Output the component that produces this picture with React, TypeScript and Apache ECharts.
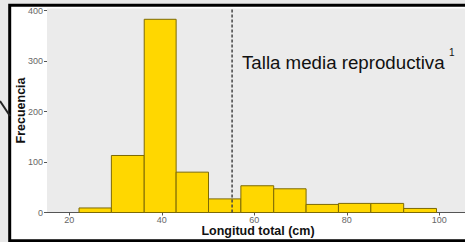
import React, { useEffect, useRef } from "react";
import * as echarts from "echarts";

const binEdges = [22.1, 29.1, 36.2, 43.1, 50.1, 57.1, 64.2, 71.2, 78.2, 85.2, 92.3, 99.4];
const counts = [9, 113, 383, 80, 27, 53, 47, 16, 18, 18, 8];
const xTicks = [20, 40, 60, 80, 100];
const yTicks = [0, 100, 200, 300, 400];
const meanLength = 55.2;
const xTitle = "Longitud total (cm)";
const yTitle = "Frecuencia";
const annotation = "Talla media reproductiva";
const annotationNote = "1";

const FONT = "'Liberation Sans', Arial, sans-serif";

export default function App() {
  const ref = useRef<HTMLDivElement>(null);
  useEffect(() => {
    if (!ref.current) return;
    const chart = echarts.init(ref.current, undefined, { renderer: "svg" });
    const bins = counts.map((c, i) => [binEdges[i], binEdges[i + 1], c]);
    const yMax = 404.4;
    chart.setOption({
      animation: false,
      backgroundColor: "#e8e8e8",
      grid: {
        left: 47,
        right: 0,
        top: 8.5,
        bottom: 29.5,
        show: true,
        backgroundColor: "#ebebeb",
        borderWidth: 0,
        containLabel: false,
        outerBoundsMode: "none",
      },
      xAxis: {
        type: "value",
        min: 15.18,
        max: 105.56,
        name: xTitle,
        nameLocation: "middle",
        nameGap: 11.5,
        nameMoveOverlap: false,
        nameTextStyle: { fontFamily: FONT, fontWeight: "bold", fontSize: 12.5, color: "#111", padding: [0, 0, 0, 4] },
        axisLine: { show: true, lineStyle: { color: "#555", width: 1 } },
        axisTick: { show: true, length: 3, customValues: xTicks, lineStyle: { color: "#555" } },
        axisLabel: { customValues: xTicks, fontFamily: FONT, fontSize: 9, color: "#666", margin: 3 },
        splitLine: { show: false },
      },
      yAxis: {
        type: "value",
        min: 0,
        max: yMax,
        name: yTitle,
        nameLocation: "middle",
        nameGap: 20,
        nameMoveOverlap: false,
        nameRotate: 90,
        nameTextStyle: { fontFamily: FONT, fontWeight: "bold", fontSize: 12.5, color: "#111" },
        axisLine: { show: false },
        axisTick: { show: true, length: 3, customValues: yTicks, lineStyle: { color: "#555" } },
        axisLabel: { customValues: yTicks, fontFamily: FONT, fontSize: 9, color: "#666", margin: 4 },
        splitLine: { show: false },
      },
      graphic: [
        {
          type: "rect",
          z: -10,
          silent: true,
          shape: { x: 9.7, y: 5.3, width: 500, height: 235.5 },
          style: { fill: "#ffffff", stroke: "#000", lineWidth: 3 },
        },
        {
          type: "line",
          z: -10,
          silent: true,
          shape: { x1: 0, y1: 101, x2: 10, y2: 116 },
          style: { stroke: "#222", lineWidth: 2 },
        },
        {
          type: "text",
          z: 100,
          x: 242,
          y: 62,
          style: { text: annotation, font: `18.7px ${FONT}`, fill: "#111", textAlign: "left", textVerticalAlign: "middle" },
        },
        {
          type: "text",
          z: 100,
          x: 449,
          y: 52,
          style: { text: annotationNote, font: `10px ${FONT}`, fill: "#111", textAlign: "left", textVerticalAlign: "middle" },
        },
      ],
      series: [
        {
          type: "custom",
          data: bins,
          encode: { x: [0, 1], y: 2 },
          renderItem: (params: any, api: any) => {
            const x0 = api.value(0);
            const x1 = api.value(1);
            const c = api.value(2);
            const p0 = api.coord([x0, c]);
            const p1 = api.coord([x1, 0]);
            return {
              type: "rect",
              shape: { x: p0[0], y: p0[1], width: p1[0] - p0[0], height: p1[1] - p0[1] },
              style: { fill: "#FFD700", stroke: "#7d6a05", lineWidth: 1 },
            };
          },
        },
        {
          type: "line",
          data: [
            [meanLength, 0],
            [meanLength, yMax],
          ],
          symbol: "none",
          z: 5,
          lineStyle: { type: [3, 2], color: "#444", width: 1.5 },
        },
      ],
    });
    return () => chart.dispose();
  }, []);
  return (
    <div
      ref={ref}
      style={{ position: "fixed", left: 0, top: 0, width: 465, height: 242 }}
    />
  );
}
